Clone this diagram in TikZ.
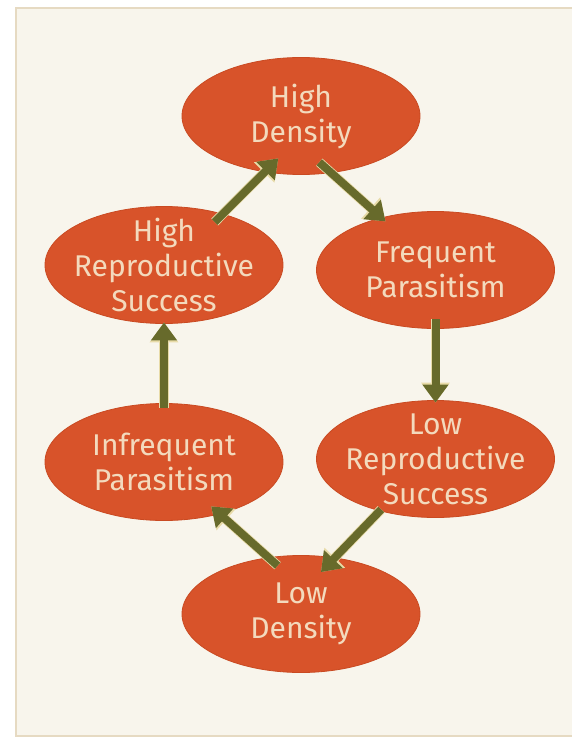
\documentclass[tikz,border=0pt]{standalone}
\usepackage{fontspec}
\setmainfont{Fira Sans}
\usetikzlibrary{shapes.geometric,arrows.meta}
\definecolor{bgpanel}{HTML}{F8F5EC}
\definecolor{panelline}{HTML}{E6DAC2}
\definecolor{blob}{HTML}{D8532A}
\definecolor{blobedge}{HTML}{C94A22}
\definecolor{blobtext}{HTML}{F3DABD}
\definecolor{olive}{HTML}{676A2B}
\definecolor{oliveedge}{HTML}{E8DBA8}
\begin{document}
\begin{tikzpicture}[x=1pt,y=-1pt,
  blob/.style={ellipse, fill=blob, draw=blobedge, line width=0.8pt,
    minimum width=238pt, minimum height=117pt, inner sep=0pt},
  lbl/.style={text=blobtext, align=center,
    font=\fontsize{30}{35}\selectfont, inner sep=0pt},
  arr/.style={draw=olive, line width=8pt,
    -{Triangle[width=25pt,length=18pt]},
    preaction={draw=oliveedge, line width=9.6pt,
      -{Triangle[width=27.5pt,length=20pt]}}}
]
\useasboundingbox (0,0) rectangle (572,738);
\fill[white] (0,0) rectangle (572,738);
\fill[bgpanel] (16,8) rectangle (572,736);
\draw[panelline, line width=1.5pt] (572,8) -- (16,8) -- (16,736) -- (572,736);

\node[blob] (hd)  at (301,116)   {};
\node[blob] (hr)  at (164,265)   {};
\node[blob] (fp)  at (435.5,270) {};
\node[blob] (ip)  at (164,462)   {};
\node[blob] (lrs) at (435.5,459) {};
\node[blob] (ld)  at (301,614)   {};

\node[lbl] (hdt)  at (hd)  {High\\Density};
\node[lbl] (hrt)  at (hr)  {High\\Reproductive\\Success};
\node[lbl] (fpt)  at (fp)  {Frequent\\Parasitism};
\node[lbl] (ipt)  at (ip)  {Infrequent\\Parasitism};
\node[lbl] (lrst) at (lrs) {Low\\Reproductive\\Success};
\node[lbl] (ldt)  at (ld)  {Low\\Density};

\draw[arr, shorten <=-11.7pt, shorten >=-19.4pt] (hr.41.8) -- (hd.-123.5);
\draw[arr, shorten <=-16.1pt, shorten >=-5.8pt] (hd.-62.9) -- (fp.136.6);
\draw[arr, shorten <=-9.5pt, shorten >=-2.5pt] (fp.south) -- (lrs.north);
\draw[arr, shorten <=-2.2pt, shorten >=-20.2pt] (lrs.-137.3) -- (ld.59.7);
\draw[arr, shorten <=-12.5pt, shorten >=-11.6pt] (ld.120.5) -- (ip.-43);
\draw[arr, shorten <=-4.5pt, shorten >=-1.5pt] (ip.north) -- (hr.south);
\end{tikzpicture}
\end{document}
